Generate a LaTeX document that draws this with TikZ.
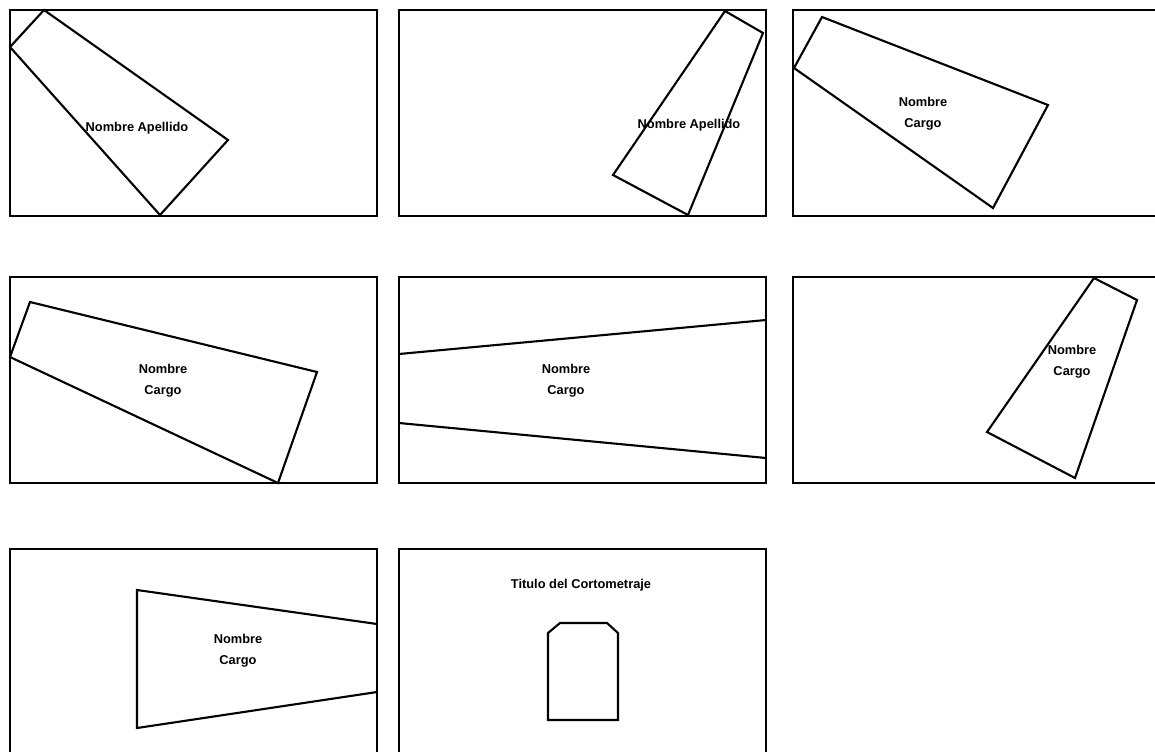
\documentclass[tikz,border=0pt]{standalone}
\usepackage{fontspec}
\setmainfont{Liberation Sans}
\usepackage{tikz}
\usetikzlibrary{positioning}

\begin{document}
\begin{tikzpicture}[x=0.02cm,y=-0.02cm,
  frame/.style={draw=black,line width=1.2pt},
  shot/.style={draw=black,line width=1.2pt,line join=miter},
  lbl/.style={font=\fontsize{7.3}{12}\selectfont\bfseries,align=center,inner sep=0pt}
]
  \useasboundingbox (0,0) rectangle (1155,751);
  \clip (0,0) rectangle (1155,751);

  % Storyboard frames (3 per row, last row cut at the bottom)
  \foreach \fx/\fy in {10/10,399/10,793/10,10/277,399/277,793/277,10/549,399/549}{
    \draw[frame] (\fx,\fy) rectangle ++(367,206);
  }

  % Frame 1
  \draw[shot] (44,10) -- (228,140) -- (160,215) -- (10,47) -- cycle;
  \node[lbl] (n1) at (137,128) {Nombre Apellido};

  % Frame 2
  \draw[shot] (725,11) -- (763,33) -- (688,215) -- (613,175) -- cycle;
  \node[lbl] (n2) at (689,125) {Nombre Apellido};

  % Frame 3
  \draw[shot] (822,17) -- (1048,105) -- (993,208) -- (794,68) -- cycle;
  \node[lbl] (n3) at (923,114) {Nombre\\Cargo};

  % Frame 4
  \draw[shot] (30,302) -- (317,372) -- (278,483) -- (10,357) -- cycle;
  \node[lbl] (n4) at (163,381) {Nombre\\Cargo};

  % Frame 5 (wedge running out of the frame)
  \draw[shot] (399,354) -- (766,320);
  \draw[shot] (399,423) -- (766,458);
  \node[lbl] (n5) at (566,381) {Nombre\\Cargo};

  % Frame 6
  \draw[shot] (1094,278) -- (1137,300) -- (1075,478) -- (987,432) -- cycle;
  \node[lbl] (n6) at (1072,362) {Nombre\\Cargo};

  % Frame 7
  \draw[shot] (377,624) -- (137,590) -- (137,728) -- (377,692);
  \node[lbl] (n7) at (238,651) {Nombre\\Cargo};

  % Frame 8: title card
  \node[lbl] (n8) at (581,585) {Titulo del Cortometraje};
  \draw[shot] (548,720) -- (548,633) -- (560,623) -- (607,623) -- (618,633) -- (618,720) -- cycle;
\end{tikzpicture}
\end{document}
